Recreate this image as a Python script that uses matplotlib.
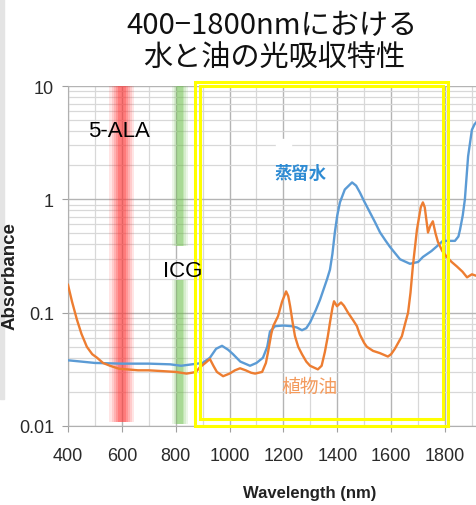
import matplotlib
matplotlib.use("Agg")
import matplotlib.pyplot as plt
import matplotlib.patches as mpatches
from matplotlib.ticker import LogLocator, NullFormatter, FixedLocator
import numpy as np

# ---------------------------------------------------------------------------
# Data
water_nm = [400, 450, 500, 600, 700, 780, 820, 860, 900, 927, 950, 972, 995, 1013,
            1040, 1076, 1100, 1124, 1140, 1150, 1169, 1200, 1230, 1250, 1269, 1285,
            1299, 1320, 1336, 1362, 1373, 1382, 1391, 1400, 1410, 1428, 1455, 1470,
            1484, 1500, 1521, 1540, 1559, 1580, 1596, 1633, 1670, 1700, 1718, 1750,
            1770, 1792, 1820, 1837, 1850, 1856, 1866, 1874, 1886, 1900, 1910, 1920]
water_abs = [0.038, 0.037, 0.036, 0.0355, 0.0355, 0.035, 0.034, 0.035, 0.036, 0.040,
             0.048, 0.051, 0.047, 0.043, 0.037, 0.034, 0.036, 0.040, 0.050, 0.068,
             0.076, 0.077, 0.076, 0.074, 0.070, 0.073, 0.082, 0.105, 0.13, 0.197,
             0.24, 0.33, 0.51, 0.72, 0.94, 1.22, 1.41, 1.32, 1.15, 0.96, 0.77, 0.63,
             0.51, 0.43, 0.38, 0.296, 0.27, 0.28, 0.31, 0.35, 0.385, 0.43, 0.43, 0.43,
             0.47, 0.54, 0.72, 1.0, 2.4, 4.1, 4.6, 4.9]

oil_nm = [400, 415, 433, 450, 470, 490, 508, 530, 556, 590, 619, 660, 700, 750, 800,
          840, 860, 875, 890, 910, 927, 940, 953, 976, 1000, 1020, 1039, 1060, 1080,
          1095, 1121, 1135, 1143, 1155, 1162, 1180, 1195, 1210, 1218, 1225, 1235,
          1243, 1255, 1269, 1285, 1299, 1328, 1342, 1354, 1365, 1373, 1382, 1388,
          1399, 1414, 1425, 1440, 1460, 1473, 1484, 1500, 1510, 1533, 1558, 1588,
          1600, 1614, 1640, 1652, 1663, 1672, 1681, 1696, 1710, 1718, 1725, 1737,
          1745, 1755, 1765, 1774, 1790, 1807, 1825, 1844, 1865, 1882, 1900, 1920]
oil_abs = [0.176, 0.125, 0.087, 0.065, 0.050, 0.043, 0.040, 0.036, 0.034, 0.032,
           0.0316, 0.031, 0.031, 0.0305, 0.030, 0.029, 0.0295, 0.030, 0.033, 0.036,
           0.039, 0.034, 0.030, 0.0275, 0.029, 0.031, 0.0323, 0.031, 0.0295, 0.029,
           0.030, 0.036, 0.045, 0.065, 0.076, 0.093, 0.125, 0.154, 0.14, 0.114, 0.08,
           0.062, 0.050, 0.043, 0.037, 0.034, 0.0316, 0.034, 0.045, 0.062, 0.082,
           0.11, 0.126, 0.114, 0.123, 0.115, 0.10, 0.085, 0.076, 0.064, 0.054, 0.050,
           0.046, 0.044, 0.041, 0.043, 0.048, 0.062, 0.08, 0.10, 0.15, 0.26, 0.54,
           0.85, 0.94, 0.85, 0.51, 0.58, 0.64, 0.50, 0.42, 0.35, 0.31, 0.28, 0.256,
           0.23, 0.205, 0.218, 0.21]

x_ticks = [400, 600, 800, 1000, 1200, 1400, 1600, 1800]
y_ticks = [0.01, 0.1, 1, 10]
y_ticklabels = ["0.01", "0.1", "1", "10"]

title_line1 = "400\u22121800nmにおける"
title_line2 = "水と油の光吸収特性"
# ---------------------------------------------------------------------------
narrow = ["Liberation Sans Narrow", "Liberation Sans", "DejaVu Sans"]
cjk = ["Noto Sans CJK JP", "DejaVu Sans"]
plt.rcParams["font.family"] = narrow

fig = plt.figure(figsize=(4.77, 5.06), dpi=100)
fig.patch.set_facecolor("white")
ax = fig.add_axes([68 / 477, 1 - 427 / 506, 409 / 477, 340 / 506])

# grey strip on the far left edge of the slide
fig.patches.append(mpatches.Rectangle((0, 1 - 400 / 506), 4 / 477, 400 / 506,
                                      transform=fig.transFigure, color="#e4e4e4", zorder=-5))

ax.set_yscale("log")
ax.set_xlim(400, 1919)
ax.set_ylim(0.01, 10)

ax.set_xticks(x_ticks)
ax.xaxis.set_minor_locator(FixedLocator(list(range(500, 1920, 100))))
ax.set_yticks(y_ticks)
ax.set_yticklabels(y_ticklabels)
ax.yaxis.set_minor_locator(LogLocator(base=10, subs=np.arange(2, 10)))
ax.yaxis.set_minor_formatter(NullFormatter())

ax.grid(which="major", color="#b4b4b4", linewidth=1.0)
ax.grid(which="minor", color="#d8d8d8", linewidth=0.9)
ax.set_axisbelow(True)
for s in ["top", "right"]:
    ax.spines[s].set_visible(False)
for s in ["left", "bottom"]:
    ax.spines[s].set_color("#b0b0b0")
ax.tick_params(which="major", length=4, color="#a0a0a0", labelsize=13, labelcolor="#2a2a2a")
ax.tick_params(axis="x", pad=11)
ax.tick_params(axis="y", pad=6)
ax.tick_params(which="minor", length=0)

# soft coloured bands for the fluorescent agents
for hw, a in [(46, 0.13), (38, 0.15), (30, 0.18), (22, 0.22), (14, 0.3)]:
    ax.axvspan(600 - hw, 600 + hw, ymin=0.012, ymax=1.0, color="#ff3b3b", alpha=a,
               linewidth=0, zorder=1)
for hw, a in [(28, 0.13), (22, 0.16), (16, 0.2), (10, 0.28)]:
    for lo, hi in [(0.006, 0.429), (0.529, 1.0)]:
        ax.axvspan(816 - hw, 816 + hw, ymin=lo, ymax=hi, color="#6cc04a", alpha=a,
                   linewidth=0, zorder=1)

# spectra
ax.plot(water_nm, water_abs, color="#5b9bd5", linewidth=1.7, zorder=3)
ax.plot(oil_nm, oil_abs, color="#ed7d31", linewidth=1.7, zorder=3)

# blank patch above the water label
ax.add_patch(mpatches.Rectangle((1172, 2.03), 56, 1.35, color="white", zorder=2))

# double yellow frame
for x0, x1, y0, y1 in [(871, 1813, 0.0101, 10.8), (890, 1791, 0.01143, 9.94)]:
    ax.add_patch(mpatches.Rectangle((x0, y0), x1 - x0, y1 - y0, fill=False,
                                    edgecolor="#ffff00", linewidth=2.2, zorder=4,
                                    clip_on=False))

# labels
ax.text(474, 4.06, "5-ALA", fontsize=16, family=["Liberation Sans", "DejaVu Sans"],
        ha="left", va="center", zorder=5)
ax.text(753, 0.236, "ICG", fontsize=16, family=["Liberation Sans", "DejaVu Sans"],
        ha="left", va="center", zorder=5)
ax.text(1262, 1.72, "蒸留水", fontsize=12.5, family=cjk, fontweight="bold",
        color="#2e8bd3", ha="center", va="center", zorder=5)
ax.text(1298, 0.0225, "植物油", fontsize=13.5, family=cjk, color="#f39a5c",
        ha="center", va="center", zorder=5)

ax.set_xlabel("Wavelength (nm)", fontsize=12, fontweight="bold", color="#222222")
ax.xaxis.set_label_coords((310 - 68) / 409, -(486 - 427) / 340)
ax.set_ylabel("Absorbance", fontsize=13.5, fontweight="bold", color="#222222",
              family=["Liberation Sans", "DejaVu Sans"])
ax.yaxis.set_label_coords(-(68 - 19) / 409, (427 - 276) / 340)

fig.text(272 / 477, 1 - 26 / 506, title_line1, fontsize=21, family=cjk,
         ha="center", va="center", color="#111111")
fig.text(274 / 477, 1 - 59 / 506, title_line2, fontsize=21, family=cjk,
         ha="center", va="center", color="#111111")

fig.savefig("out.png", dpi=100)
